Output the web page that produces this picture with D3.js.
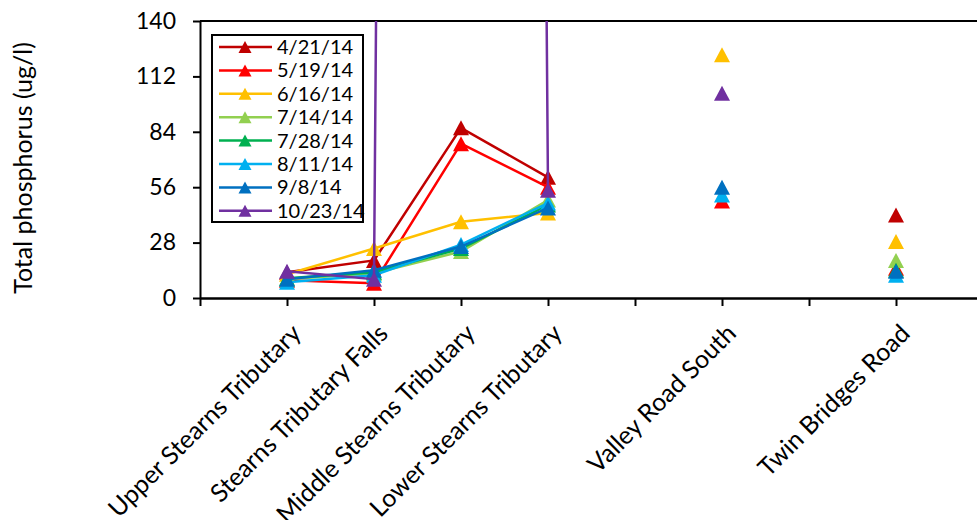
<!DOCTYPE html>
<html>
<head>
<meta charset="utf-8">
<script src="https://cdn.jsdelivr.net/npm/d3@7"></script>
<style>
  body { margin: 0; background: #fff; }
  svg { display: block; font-family: Lato, "Open Sans", sans-serif; }
</style>
</head>
<body>
<div id="chart"></div>
<script>
// sites along the x axis (blank slots keep the gaps)
var categories = ["", "Upper Stearns Tributary", "Stearns Tributary Falls", "Middle Stearns Tributary",
  "Lower Stearns Tributary", "", "Valley Road South", "", "Twin Bridges Road", ""];

var seriesNames = ["4/21/14", "5/19/14", "6/16/14", "7/14/14", "7/28/14", "8/11/14", "9/8/14", "10/23/14"];
var seriesColors = ["#C00000", "#FF0000", "#FFC000", "#92D050", "#00B050", "#00B0F0", "#0070C0", "#7030A0"];

var apr21 = [null, 13, 19, 86, 61, null, null, null, 42, null];
var may19 = [null, 9, 7.5, 78, 56, null, 49, null, 15, null];
var jun16 = [null, 12, 25, 38.5, 43, null, 123, null, 28.5, null];
var jul14 = [null, 9.5, 12.5, 23.5, 49.5, null, null, null, 19, null];
var jul28 = [null, 10, 13, 25, 47, null, null, null, 14, null];
var aug11 = [null, 8, 11.5, 27, 48, null, 52, null, 11.5, null];
var sep8  = [null, 9.5, 14, 26, 45.5, null, 56, null, 13.5, null];
var oct23 = [null, 13.5, 9.5, 5600, 54.5, null, 103.5, null, null, null];

var seriesValues = [apr21, may19, jun16, jul14, jul28, aug11, sep8, oct23];
var yTicks = [0, 28, 56, 84, 112, 140];

var W = 977, H = 520;
var margin = {top: 21, left: 200, bottom: 222};
var plotH = H - margin.top - margin.bottom;

var svg = d3.select("#chart").append("svg")
    .attr("width", W)
    .attr("height", H);

var x = d3.scalePoint()
    .domain(d3.range(categories.length))
    .range([margin.left, margin.left + 87 * (categories.length - 1)]);

var y = d3.scaleLinear()
    .domain([0, 140])
    .range([margin.top + plotH, margin.top]);

// clip to the plot area
svg.append("clipPath").attr("id", "plot")
  .append("rect")
    .attr("x", margin.left)
    .attr("y", margin.top)
    .attr("width", W)
    .attr("height", plotH);

// plot frame (top edge)
svg.append("line")
    .attr("x1", margin.left).attr("x2", W)
    .attr("y1", y(140)).attr("y2", y(140))
    .attr("stroke", "#000").attr("stroke-width", 2);

// triangle marker, centred on its box
function triangle(w, h) {
  var p = d3.path();
  p.moveTo(0, -h / 2);
  p.lineTo(w / 2, h / 2);
  p.lineTo(-w / 2, h / 2);
  p.closePath();
  return p.toString();
}

var line = d3.line()
    .defined(function(d) { return d != null; })
    .x(function(d, i) { return x(i); })
    .y(function(d) { return y(d); });

var plot = svg.append("g").attr("clip-path", "url(#plot)");

seriesValues.forEach(function(vals, s) {
  var g = plot.append("g");
  g.append("path")
      .datum(vals)
      .attr("fill", "none")
      .attr("stroke", seriesColors[s])
      .attr("stroke-width", 2.5)
      .attr("d", line);
  g.selectAll("path.mk")
    .data(vals.map(function(v, i) { return {v: v, i: i}; }).filter(function(d) { return d.v != null; }))
    .enter().append("path")
      .attr("class", "mk")
      .attr("d", triangle(16, 15))
      .attr("fill", seriesColors[s])
      .attr("transform", function(d) { return "translate(" + x(d.i) + "," + y(d.v) + ")"; });
});

// Y axis
var yAxis = svg.append("g")
    .attr("transform", "translate(" + margin.left + ",0)")
    .call(d3.axisLeft(y).tickValues(yTicks).tickSize(7).tickSizeOuter(0));
yAxis.select(".domain").attr("stroke-width", 2);
yAxis.selectAll(".tick line").attr("stroke-width", 2);
yAxis.selectAll(".tick text")
    .attr("font-size", 23)
    .attr("font-family", "Lato, sans-serif")
    .attr("fill", "#000")
    .attr("x", -24);

// X axis
var xAxis = svg.append("g")
    .attr("transform", "translate(0," + y(0) + ")")
    .call(d3.axisBottom(x).tickSize(8).tickSizeOuter(0)
      .tickFormat(function(i) { return categories[i]; }));
xAxis.select(".domain").attr("stroke-width", 2.5);
xAxis.selectAll(".tick line").attr("stroke-width", 2);
xAxis.selectAll(".tick text")
    .attr("font-size", 25)
    .attr("font-family", "Lato, sans-serif")
    .attr("fill", "#000")
    .attr("text-anchor", "end")
    .attr("x", 0).attr("y", 0).attr("dy", 0)
    .attr("transform", "translate(15,37) rotate(-45)");

// Y title
svg.append("text")
    .attr("transform", "translate(32,168) rotate(-90)")
    .attr("text-anchor", "middle")
    .attr("font-size", 25)
    .text("Total phosphorus (ug/l)");

// legend
var legend = svg.append("g");
legend.append("rect")
    .attr("x", 212).attr("y", 35)
    .attr("width", 151).attr("height", 187)
    .attr("fill", "#fff")
    .attr("stroke", "#000").attr("stroke-width", 2);

seriesNames.forEach(function(name, s) {
  var ly = 47 + s * 23.4;
  legend.append("line")
      .attr("x1", 219).attr("x2", 272)
      .attr("y1", ly).attr("y2", ly)
      .attr("stroke", seriesColors[s]).attr("stroke-width", 2.5);
  legend.append("path")
      .attr("d", triangle(13, 12))
      .attr("fill", seriesColors[s])
      .attr("transform", "translate(245," + ly + ")");
  legend.append("text")
      .attr("x", 277).attr("y", ly)
      .attr("dy", "0.35em")
      .attr("font-size", 20)
      .text(name);
});
</script>
</body>
</html>
